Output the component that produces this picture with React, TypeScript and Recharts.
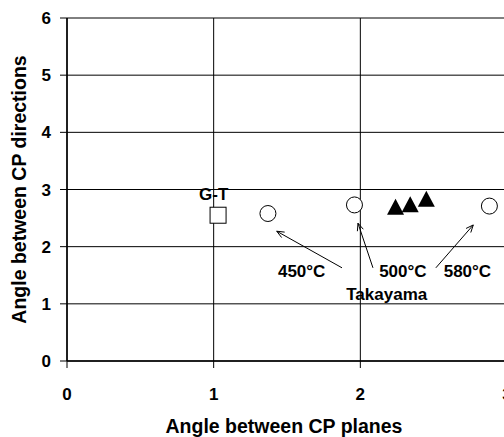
import React from "react";
import {
  ScatterChart,
  Scatter,
  XAxis,
  YAxis,
  CartesianGrid,
  ReferenceLine,
  ReferenceDot,
} from "recharts";

const xTicks = [0, 1, 2, 3];
const yTicks = [0, 1, 2, 3, 4, 5, 6];

const gtPoints = [{ x: 1.03, y: 2.55 }];
const thisWorkPoints = [
  { x: 1.37, y: 2.58 },
  { x: 1.96, y: 2.73 },
  { x: 2.88, y: 2.71 },
];
const takayamaPoints = [
  { x: 2.24, y: 2.7 },
  { x: 2.34, y: 2.74 },
  { x: 2.45, y: 2.84 },
];

// annotation text, anchored at baseline
const notes = [
  { x: 1.0, y: 2.81, text: "G-T" },
  { x: 1.6, y: 1.47, text: "450°C" },
  { x: 2.29, y: 1.47, text: "500°C" },
  { x: 2.73, y: 1.47, text: "580°C" },
  { x: 2.18, y: 1.07, text: "Takayama" },
];

// arrows: from tail to head
const arrows = [
  { from: { x: 1.875, y: 1.63 }, to: { x: 1.43, y: 2.27 } },
  { from: { x: 2.086, y: 1.63 }, to: { x: 1.984, y: 2.41 } },
  { from: { x: 2.515, y: 1.63 }, to: { x: 2.77, y: 2.38 } },
];

const FONT = "'Liberation Sans', Arial, sans-serif";

const circleShape = (props: any) => (
  <circle cx={props.cx} cy={props.cy} r={8} fill="#fff" stroke="#000" strokeWidth={1} />
);

const squareShape = (props: any) => (
  <rect x={props.cx - 8} y={props.cy - 8} width={16} height={16} fill="#fff" stroke="#000" strokeWidth={1} />
);

const triangleShape = (props: any) => {
  const { cx, cy } = props;
  return (
    <polygon
      points={`${cx},${cy - 8} ${cx + 8.5},${cy + 8} ${cx - 8.5},${cy + 8}`}
      fill="#000"
    />
  );
};

const arrowShape = (props: any) => {
  const { x1, y1, x2, y2 } = props;
  const ang = Math.atan2(y2 - y1, x2 - x1);
  const len = 8;
  const spread = 0.4;
  const ax = x2 - len * Math.cos(ang - spread);
  const ay = y2 - len * Math.sin(ang - spread);
  const bx = x2 - len * Math.cos(ang + spread);
  const by = y2 - len * Math.sin(ang + spread);
  return (
    <g stroke="#000" strokeWidth={1} fill="none">
      <line x1={x1} y1={y1} x2={x2} y2={y2} />
      <polyline points={`${ax},${ay} ${x2},${y2} ${bx},${by}`} />
    </g>
  );
};

const noteShape = (text: string) => (props: any) => (
  <text
    x={props.cx}
    y={props.cy}
    textAnchor="middle"
    fontFamily={FONT}
    fontWeight="bold"
    fontSize={17}
    fill="#000"
  >
    {text}
  </text>
);

const tickStyle = { fontFamily: FONT, fontWeight: "bold", fontSize: 17, fill: "#000" };

export default function App() {
  return (
    <div
      style={{
        position: "fixed",
        left: 0,
        top: 0,
        width: 504,
        height: 437,
        overflow: "hidden",
        background: "#fff",
      }}
    >
      <ScatterChart
        width={540}
        height={437}
        margin={{ top: 18, right: 33, bottom: 0, left: 0 }}
      >
        <CartesianGrid stroke="#000" strokeWidth={1} />
        <XAxis
          type="number"
          dataKey="x"
          domain={[0, 3]}
          ticks={xTicks}
          interval={0}
          height={76}
          tickSize={7}
          tickMargin={20}
          tick={tickStyle}
          axisLine={{ stroke: "#000", strokeWidth: 1.5 }}
          tickLine={{ stroke: "#000" }}
          label={{
            content: (p: any) => {
              const vb = p.viewBox;
              return (
                <text
                  x={vb.x + vb.width / 2 - 3}
                  y={433}
                  textAnchor="middle"
                  fontFamily={FONT}
                  fontWeight="bold"
                  fontSize={19.5}
                  fill="#000"
                >
                  Angle between CP planes
                </text>
              );
            },
          }}
        />
        <YAxis
          type="number"
          dataKey="y"
          domain={[0, 6]}
          ticks={yTicks}
          interval={0}
          width={67}
          tickSize={7}
          tickMargin={9}
          tick={tickStyle}
          axisLine={{ stroke: "#000", strokeWidth: 1.5 }}
          tickLine={{ stroke: "#000" }}
          label={{
            content: (p: any) => {
              const vb = p.viewBox;
              const cy = vb.y + vb.height / 2;
              return (
                <text
                  x={19}
                  y={cy}
                  transform={`rotate(-90, 19, ${cy})`}
                  textAnchor="middle"
                  dominantBaseline="central"
                  fontFamily={FONT}
                  fontWeight="bold"
                  fontSize={19.5}
                  fill="#000"
                >
                  Angle between CP directions
                </text>
              );
            },
          }}
        />
        {arrows.map((a, i) => (
          <ReferenceLine
            key={`arrow-${i}`}
            segment={[a.from, a.to]}
            shape={arrowShape}
            ifOverflow="visible"
          />
        ))}
        {notes.map((n) => (
          <ReferenceDot
            key={n.text}
            x={n.x}
            y={n.y}
            r={0}
            shape={noteShape(n.text)}
            ifOverflow="visible"
          />
        ))}
        <Scatter data={gtPoints} shape={squareShape} isAnimationActive={false} />
        <Scatter data={thisWorkPoints} shape={circleShape} isAnimationActive={false} />
        <Scatter data={takayamaPoints} shape={triangleShape} isAnimationActive={false} />
      </ScatterChart>
    </div>
  );
}
